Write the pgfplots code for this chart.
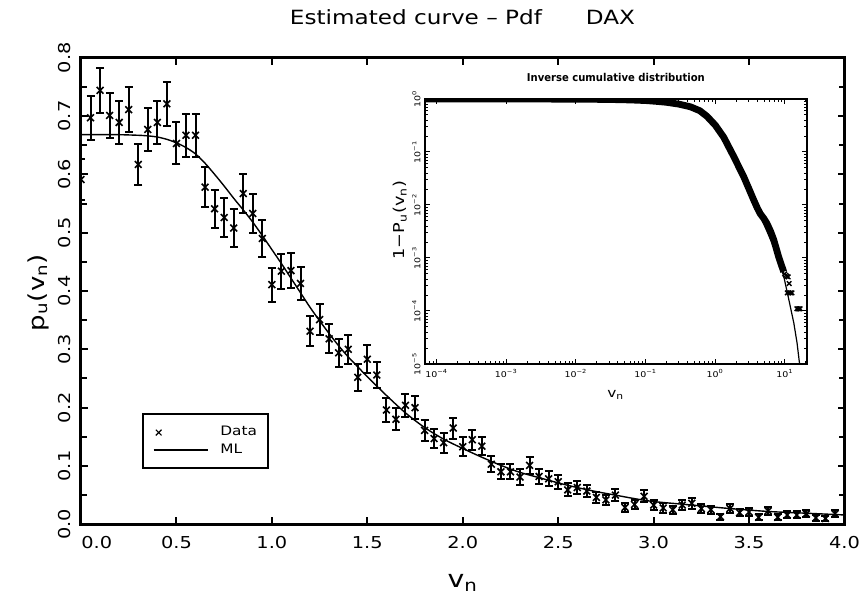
\documentclass[border=0pt]{standalone}
\usepackage{fontspec}
\setmainfont{DejaVu Sans}[FakeStretch=1.18]
\newfontfamily\narrowfont{DejaVu Sans}[FakeStretch=0.93]
\usepackage{pgfplots}
\usepackage{pgfplotstable}
\pgfplotsset{compat=1.18}

\pgfplotstableread{
x y err
0.00 0.591 0.035
0.05 0.697 0.038
0.10 0.744 0.039
0.15 0.701 0.038
0.20 0.689 0.037
0.25 0.711 0.038
0.30 0.617 0.035
0.35 0.677 0.037
0.40 0.689 0.037
0.45 0.721 0.038
0.50 0.653 0.036
0.55 0.667 0.037
0.60 0.667 0.037
0.65 0.578 0.034
0.70 0.541 0.033
0.75 0.526 0.033
0.80 0.508 0.032
0.85 0.567 0.034
0.90 0.533 0.033
0.95 0.490 0.031
1.00 0.411 0.029
1.05 0.434 0.030
1.10 0.435 0.030
1.15 0.413 0.029
1.20 0.331 0.026
1.25 0.351 0.027
1.30 0.318 0.025
1.35 0.294 0.024
1.40 0.300 0.025
1.45 0.252 0.023
1.50 0.283 0.024
1.55 0.256 0.023
1.60 0.196 0.020
1.65 0.180 0.019
1.70 0.204 0.020
1.75 0.200 0.020
1.80 0.161 0.018
1.85 0.147 0.017
1.90 0.140 0.017
1.95 0.165 0.018
2.00 0.133 0.016
2.05 0.145 0.017
2.10 0.134 0.016
2.15 0.103 0.014
2.20 0.090 0.013
2.25 0.090 0.013
2.30 0.081 0.013
2.35 0.101 0.014
2.40 0.082 0.013
2.45 0.078 0.013
2.50 0.073 0.012
2.55 0.059 0.011
2.60 0.063 0.011
2.65 0.057 0.011
2.70 0.046 0.010
2.75 0.042 0.009
2.80 0.050 0.010
2.85 0.029 0.008
2.90 0.034 0.008
2.95 0.048 0.010
3.00 0.033 0.008
3.05 0.028 0.008
3.10 0.025 0.007
3.15 0.033 0.008
3.20 0.036 0.009
3.25 0.027 0.007
3.30 0.025 0.007
3.35 0.013 0.005
3.40 0.027 0.007
3.45 0.020 0.006
3.50 0.021 0.007
3.55 0.012 0.005
3.60 0.023 0.007
3.65 0.012 0.005
3.70 0.016 0.006
3.75 0.016 0.006
3.80 0.018 0.006
3.85 0.011 0.005
3.90 0.010 0.005
3.95 0.018 0.006
}\pdfdata

\pgfplotstableread{
x y
0.00 0.668
0.10 0.668
0.20 0.668
0.30 0.667
0.35 0.666
0.40 0.664
0.45 0.660
0.50 0.654
0.55 0.646
0.60 0.635
0.65 0.619
0.70 0.600
0.75 0.580
0.80 0.559
0.85 0.539
0.90 0.518
0.95 0.495
1.00 0.471
1.05 0.447
1.10 0.422
1.15 0.397
1.20 0.372
1.25 0.349
1.30 0.327
1.35 0.306
1.40 0.287
1.45 0.270
1.50 0.253
1.60 0.221
1.70 0.191
1.80 0.166
1.90 0.146
2.00 0.130
2.10 0.115
2.20 0.101
2.30 0.089
2.40 0.080
2.50 0.071
2.60 0.063
2.70 0.056
2.80 0.050
2.90 0.044
3.00 0.039
3.20 0.033
3.40 0.027
3.60 0.022
3.80 0.019
4.00 0.016
}\mlcurve

\pgfplotstableread{
x y
0.00007 1.0
0.0001 0.99993
0.001 0.9993
0.01 0.9933
0.03 0.980
0.06 0.960
0.1 0.935
0.146 0.90
0.2 0.866
0.3 0.80
0.44 0.712
0.6 0.60
0.76 0.47
1.0 0.32
1.32 0.19
1.84 0.082
2.56 0.034
3.0 0.021
3.55 0.0125
4.0 0.0088
4.4 0.0069
5.0 0.0055
5.5 0.0045
6.2 0.0032
6.9 0.0022
8.1 0.00106
9.0 0.0007
9.6 0.00055
}\cumdata

\pgfplotstableread{
x y
9.9 0.00050
10.3 0.00047
10.7 0.00045
11.1 0.00044
11.5 0.00033
10.8 0.00022
11.4 0.00022
12.0 0.00022
12.6 0.00022
14.8 0.00011
15.4 0.00011
16.0 0.00011
16.5 0.00011
}\cumtail

\pgfplotstableread{
x y
0.00007 1.0
0.001 0.9993
0.01 0.9933
0.1 0.933
0.2 0.866
0.3 0.80
0.44 0.71
0.6 0.60
0.76 0.47
1.0 0.31
1.32 0.19
1.84 0.082
2.56 0.034
3.55 0.0125
4.4 0.0062
5.5 0.0032
6.9 0.0016
8.1 0.0009
9.6 0.00045
11.4 0.00016
13.4 0.000059
14.9 0.000025
16.2 0.00001
16.3 0.000005
}\cumml

\begin{document}
\begin{tikzpicture}
\useasboundingbox (0,0) rectangle (432bp,299bp);
\begin{axis}[
  at={(40.5bp,36.85bp)}, anchor=south west,
  scale only axis, width=381.75bp, height=233.3bp,
  xmin=0, xmax=4, ymin=0, ymax=0.8,
  xtick={0,0.5,1,1.5,2,2.5,3,3.5,4},
  xticklabels={\makebox[0pt]{\hspace{15.7bp}0.0},0.5,1.0,1.5,2.0,2.5,3.0,3.5,4.0},
  ytick={0,0.1,0.2,0.3,0.4,0.5,0.6,0.7,0.8},
  yticklabels={0.0,0.1,0.2,0.3,0.4,0.5,0.6,0.7,0.8},
  minor y tick num=1,
  tick align=inside,
  major tick length=3.5bp, minor tick length=3bp,
  every tick/.style={black, line width=1bp},
  axis line style={line width=1.5bp},
  tick label style={font=\fontsize{8.2bp}{10bp}\selectfont},
  xticklabel style={anchor=north, inner sep=0pt, yshift=-6bp},
  yticklabel style={rotate=90, anchor=south, inner sep=5bp},
  xlabel={v\textsubscript{n}},
  xlabel style={at={(axis description cs:0.5,-0.1258)}, anchor=center, font=\fontsize{12bp}{14bp}\selectfont},
  ylabel={p\textsubscript{u}(v\textsubscript{n})},
  ylabel style={at={(axis description cs:-0.0563,0.4968)}, anchor=center, font=\fontsize{11bp}{13bp}\selectfont},
  clip marker paths=true,
  legend style={at={(0.0799,0.1179)}, anchor=south west, draw=black, line width=1bp,
    font=\fontsize{6.5bp}{8bp}\selectfont, inner xsep=5bp, inner ysep=5.5bp, row sep=1.5bp,
    nodes={inner sep=0.5bp},
    /tikz/every odd column/.append style={column sep=5.5bp}},
  legend cell align=left,
]
\addplot[black, only marks, mark=x, mark size=2.4bp, mark options={line width=0.8bp},
  legend image code/.code={\path[draw=none,fill=none] (0bp,0bp) -- (27bp,0bp); \path[draw=none] plot[mark=x, mark size=2bp, mark options={draw=black, line width=0.6bp}] coordinates {(2.5bp,0bp)};},
  error bars/.cd, y dir=both, y explicit,
  error bar style={line width=1bp},
  error mark options={rotate=90, mark size=2bp, line width=1bp}]
  table[x=x, y=y, y error=err]{\pdfdata};
\addlegendentry{Data\hspace{4.5bp}}
\addplot[black, line width=0.7bp, smooth,
  legend image code/.code={\draw[line width=0.7bp] (0bp,0bp) -- (27bp,0bp);}]
  table[x=x, y=y]{\mlcurve};
\addlegendentry{ML}
\end{axis}

\begin{axis}[
  at={(212.5bp,117bp)}, anchor=south west,
  scale only axis, width=190.85bp, height=132.5bp,
  xmode=log, ymode=log,
  xmin=6.8e-5, xmax=20.5, ymin=1e-5, ymax=1,
  xtick={1e-4,1e-3,1e-2,1e-1,1,10},
  xticklabels={10\textsuperscript{−4},10\textsuperscript{−3},10\textsuperscript{−2},10\textsuperscript{−1},10\textsuperscript{0},10\textsuperscript{1}},
  ytick={1e-5,1e-4,1e-3,1e-2,1e-1,1},
  yticklabels={10\textsuperscript{−5},10\textsuperscript{−4},10\textsuperscript{−3},10\textsuperscript{−2},10\textsuperscript{−1},10\textsuperscript{0}},
  minor xtick={7e-5,8e-5,9e-5,2e-4,3e-4,4e-4,5e-4,6e-4,7e-4,8e-4,9e-4,2e-3,3e-3,4e-3,5e-3,6e-3,7e-3,8e-3,9e-3,2e-2,3e-2,4e-2,5e-2,6e-2,7e-2,8e-2,9e-2,0.2,0.3,0.4,0.5,0.6,0.7,0.8,0.9,2,3,4,5,6,7,8,9,20},
  minor ytick={2e-5,3e-5,4e-5,5e-5,6e-5,7e-5,8e-5,9e-5,2e-4,3e-4,4e-4,5e-4,6e-4,7e-4,8e-4,9e-4,2e-3,3e-3,4e-3,5e-3,6e-3,7e-3,8e-3,9e-3,2e-2,3e-2,4e-2,5e-2,6e-2,7e-2,8e-2,9e-2,0.2,0.3,0.4,0.5,0.6,0.7,0.8,0.9},
  tick align=inside,
  major tick length=2.5bp, minor tick length=1.5bp,
  every tick/.style={black, line width=0.5bp},
  axis line style={line width=1.2bp},
  tick label style={font=\fontsize{4bp}{5bp}\selectfont},
  xticklabel style={anchor=north, inner sep=0pt, yshift=-2.5bp},
  yticklabel style={rotate=90, anchor=south, inner sep=2bp},
  every axis title shift=0pt,
  title={Inverse cumulative distribution},
  title style={at={(0.5,1.082)}, anchor=center, font=\narrowfont\bfseries\fontsize{5.4bp}{6bp}\selectfont},
  xlabel={v\textsubscript{n}},
  xlabel style={at={(axis description cs:0.5,-0.117)}, anchor=center, font=\fontsize{6.5bp}{7bp}\selectfont},
  ylabel={1−P\textsubscript{u}(v\textsubscript{n})},
  ylabel style={at={(axis description cs:-0.0655,0.543)}, anchor=center, font=\fontsize{7.5bp}{9bp}\selectfont},
]
\addplot[black, line width=3.4bp] table[x=x, y=y]{\cumdata};
\addplot[black, only marks, mark=x, mark size=1.6bp, mark options={line width=0.7bp}] table[x=x, y=y]{\cumtail};
\addplot[black, line width=0.6bp] table[x=x, y=y]{\cumml};
\end{axis}

\node[font=\fontsize{9.8bp}{12bp}\selectfont] at (231.25bp,290.5bp) {Estimated curve – Pdf\hspace{22bp}DAX};
\end{tikzpicture}
\end{document}
